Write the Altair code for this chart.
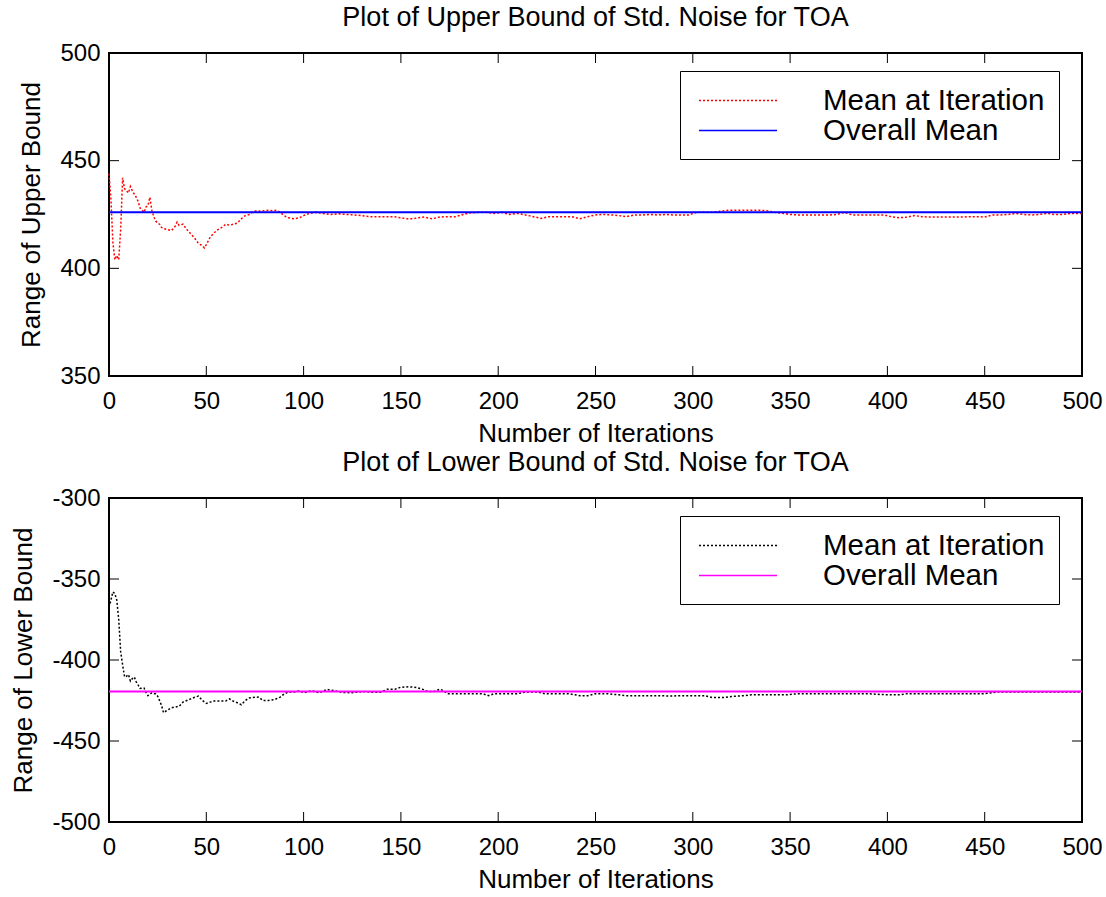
import altair as alt
import pandas as pd

# ---- upper bound: running mean per iteration ----
iter_upper = [0, 1, 2, 3, 4, 5, 6, 7, 8, 9, 10, 11, 12, 13, 14, 15, 16, 17, 18, 19,
              20, 21, 22, 23, 24, 25, 26, 27, 28, 30, 32, 34, 35, 36, 38, 40, 42, 44,
              46, 48, 49, 50, 52, 54, 56, 58, 60, 62, 64, 66, 68, 70, 72, 74, 76, 78,
              80, 82, 84, 86, 88, 90, 92, 95, 98, 100, 103, 106, 110, 114, 118, 122,
              126, 130, 134, 138, 142, 146, 150, 153, 156, 159, 162, 166, 170, 174,
              178, 182, 186, 190, 194, 198, 202, 206, 210, 214, 218, 222, 226, 230,
              234, 238, 242, 246, 250, 254, 258, 262, 266, 270, 274, 278, 282, 286,
              290, 294, 298, 302, 306, 310, 314, 318, 322, 326, 330, 334, 338, 342,
              346, 350, 354, 358, 362, 366, 370, 374, 378, 382, 386, 390, 394, 398,
              402, 406, 410, 414, 418, 422, 426, 430, 434, 438, 442, 446, 450, 454,
              458, 462, 466, 470, 474, 478, 482, 486, 490, 494, 498, 500]
mean_upper = [444, 432, 412, 404, 406, 404, 418, 442, 437, 436, 435, 438, 436, 434.5,
              433, 431, 428, 427, 426, 428.5, 429, 433, 427, 424, 422, 421, 420.5, 419,
              418.5, 418, 417.5, 419.5, 421.5, 420, 420.5, 418, 416, 414, 411.5, 410.5,
              409.5, 411, 414.5, 416.5, 418, 419, 420.5, 420, 420.5, 421, 423, 424.5,
              425, 426.3, 426.8, 426.5, 426.8, 427, 426.7, 427, 426, 424.5, 423.5, 423,
              423.5, 424.5, 425.5, 426, 425.5, 425, 425.3, 425, 424.8, 424.5, 424, 424,
              424, 424, 423.5, 423, 423, 423.5, 423.8, 423, 423.8, 424, 424, 425, 425.8,
              426, 426, 425.5, 426, 425, 425.5, 424.8, 424, 423.2, 424, 424, 424, 424,
              423, 424, 424.8, 425, 424.8, 424.5, 424, 424.8, 424.8, 425, 424.8, 425,
              424.8, 424.8, 424.8, 426, 426, 426, 426.5, 427, 427, 427, 427, 427, 426.8,
              426, 425.6, 425, 424.8, 424.8, 424.8, 424.8, 424.8, 425, 426, 424.8, 424.8,
              424.8, 424.8, 424.8, 424, 423.5, 423.8, 424.5, 424, 423.8, 423.8, 423.8,
              423.8, 423.8, 424, 424, 423.8, 424.8, 424.8, 425, 425.5, 425, 424.8, 425,
              425.5, 425, 425, 425.5, 425.5, 425.5]
overall_upper = 426.0

# ---- lower bound: running mean per iteration ----
iter_lower = [0, 1, 2, 3, 4, 5, 6, 7, 8, 9, 10, 11, 12, 13, 14, 15, 16, 18, 19, 20,
              22, 24, 25, 27, 28, 30, 32, 34, 36, 38, 40, 42, 44, 46, 48, 50, 52, 54,
              57, 60, 62, 64, 66, 68, 70, 72, 75, 77, 79, 82, 85, 88, 90, 92, 95, 98,
              100, 104, 108, 112, 116, 120, 124, 128, 132, 136, 140, 143, 147, 150,
              154, 158, 161, 164, 167, 170, 172, 174, 180, 186, 192, 195, 198, 204,
              210, 214, 220, 224, 230, 236, 242, 246, 250, 256, 262, 266, 272, 278,
              284, 288, 294, 300, 306, 310, 316, 320, 326, 330, 336, 342, 348, 354,
              360, 370, 380, 390, 400, 406, 410, 420, 430, 440, 450, 456, 470, 480,
              490, 500]
mean_lower = [-367.5, -363, -358, -359, -363, -375, -395, -403, -410.5, -410, -409,
              -413, -411.5, -410.5, -413.5, -415.5, -417.5, -417.3, -420, -422, -420.2,
              -421, -422.3, -428, -432.5, -431, -429.5, -429, -428.6, -426, -425, -424,
              -423, -422.3, -425, -426.8, -426, -425.3, -425.3, -425.3, -424, -425.5,
              -426.4, -427.6, -425, -423.5, -423, -422.9, -425, -425, -424.5, -422.9,
              -421, -419.8, -419.8, -419, -420.2, -419, -420.2, -418.2, -419, -420,
              -420.2, -419.8, -419.5, -420, -419.8, -418, -418, -416.8, -416.5, -417,
              -418, -419.5, -419.5, -418, -419, -420.8, -420.8, -420.8, -420.8, -422,
              -420.8, -420.8, -420.8, -419.7, -419.7, -420.8, -420.8, -420.8, -422,
              -422, -420.8, -420.8, -421.5, -422, -422, -422, -422, -422.3, -422, -422,
              -422, -423.2, -423.2, -422.5, -422, -421.5, -421.5, -421.5, -421.5,
              -420.8, -420.8, -420.8, -420.8, -420.8, -421.5, -421.5, -420.8, -420.8,
              -420.8, -420.8, -420.8, -419.8, -419.8, -419.8, -419.8, -419.8]
overall_lower = -419.5

series_names = ["Mean at Iteration", "Overall Mean"]
x_ticks = [0, 50, 100, 150, 200, 250, 300, 350, 400, 450, 500]
y_ticks_upper = [350, 400, 450, 500]
y_ticks_lower = [-500, -450, -400, -350, -300]

FONT = "Liberation Sans"
W = 973
TICK = 10


def panel(iters, vals, overall, y_ticks, colors, title, ytitle, H):
    curve = pd.DataFrame({"iter": iters, "value": vals, "series": series_names[0]})
    mean = pd.DataFrame({"iter": [0, 500], "value": [overall, overall],
                         "series": series_names[1]})
    xs = alt.Scale(domain=[0, 500], nice=False, zero=False)
    ys = alt.Scale(domain=[min(y_ticks), max(y_ticks)], nice=False, zero=False)

    # long horizontal stroke as the legend symbol (unit box is -1..1)
    legend = alt.Legend(
        title=None, orient="none", legendX=571, legendY=18,
        labelFont=FONT, labelFontSize=29.5, labelColor="black", labelLimit=400,
        labelOffset=94, symbolType="M-1,0H4.38", symbolSize=841,
        symbolOffset=4, symbolStrokeWidth=1.5, padding=14, rowPadding=0,
        strokeColor="black", fillColor="white",
    )
    color = alt.Color("series:N", scale=alt.Scale(domain=series_names, range=colors),
                      legend=legend)
    dash = alt.StrokeDash("series:N",
                          scale=alt.Scale(domain=series_names, range=[[2, 2], [1, 0]]),
                          legend=legend)

    x_axis = alt.Axis(values=x_ticks, tickSize=0, domain=False, grid=False,
                      labelFont=FONT, labelFontSize=24, labelColor="black",
                      labelPadding=13, labelFlush=False, labelOverlap=False,
                      title="Number of Iterations", titleFont=FONT, titleFontSize=26,
                      titleFontWeight="normal", titleColor="black", titlePadding=7)
    y_axis = alt.Axis(values=y_ticks, tickSize=0, domain=False, grid=False,
                      labelFont=FONT, labelFontSize=24, labelColor="black",
                      labelPadding=9, labelFlush=False, labelOverlap=False,
                      labelExpr="'' + datum.value",
                      title=ytitle, titleFont=FONT, titleFontSize=26,
                      titleFontWeight="normal", titleColor="black", titlePadding=15)

    X = alt.X("iter:Q", scale=xs, axis=x_axis)
    Y = alt.Y("value:Q", scale=ys, axis=y_axis)

    curve_line = alt.Chart(curve).mark_line(strokeWidth=1.5).encode(
        x=X, y=Y, color=color, strokeDash=dash,
    )
    mean_line = alt.Chart(mean).mark_line(strokeWidth=2).encode(
        x=X, y=Y, color=color, strokeDash=dash,
    )

    # inward-pointing tick marks on all four sides of the frame
    tx = alt.Chart(pd.DataFrame({"iter": x_ticks}))
    ty = alt.Chart(pd.DataFrame({"value": y_ticks}))
    rule = dict(color="black", strokeWidth=1)
    ticks = [
        tx.mark_rule(**rule).encode(x=X, y=alt.value(H), y2=alt.value(H - TICK)),
        tx.mark_rule(**rule).encode(x=X, y=alt.value(0), y2=alt.value(TICK)),
        ty.mark_rule(**rule).encode(y=Y, x=alt.value(0), x2=alt.value(TICK)),
        ty.mark_rule(**rule).encode(y=Y, x=alt.value(W), x2=alt.value(W - TICK)),
    ]

    return alt.layer(curve_line, mean_line, *ticks).properties(
        width=W, height=H,
        title=alt.TitleParams(title, font=FONT, fontSize=27, fontWeight="normal",
                              color="black", anchor="middle", frame="group",
                              baseline="alphabetic", offset=-12),
    )


top = panel(iter_upper, mean_upper, overall_upper, y_ticks_upper,
            ["#ff0000", "#0000ff"],
            "Plot of Upper Bound of Std. Noise for TOA", "Range of Upper Bound", 323)
bottom = panel(iter_lower, mean_lower, overall_lower, y_ticks_lower,
               ["#000000", "#ff00ff"],
               "Plot of Lower Bound of Std. Noise for TOA", "Range of Lower Bound", 324)

chart = (
    alt.vconcat(top, bottom, spacing=1)
    .resolve_scale(x="independent", y="independent",
                   color="independent", strokeDash="independent")
    .resolve_legend(color="independent", strokeDash="independent")
    .configure_view(stroke="black", strokeWidth=2)
    .properties(padding={"left": 9, "top": 3, "right": 2, "bottom": 0},
                background="white")
)

chart.save("out.html", embed_options={"renderer": "svg", "actions": False})
